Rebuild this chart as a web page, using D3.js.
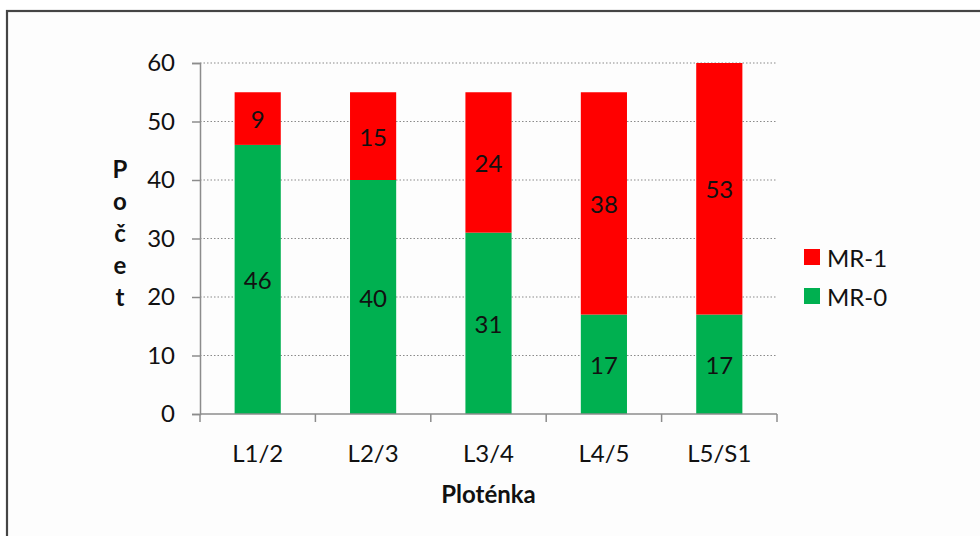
<!DOCTYPE html>
<html>
<head>
<meta charset="utf-8">
<script src="https://cdn.jsdelivr.net/npm/d3@7"></script>
<style>
  html, body { margin: 0; padding: 0; background: #ffffff; }
  svg { display: block; }
  text { font-family: Lato, "Open Sans", sans-serif; fill: #111; }
</style>
</head>
<body>
<svg id="chart" width="980" height="536"></svg>
<script>
// Segments per intervertebral level
const categories = ["L1/2", "L2/3", "L3/4", "L4/5", "L5/S1"];
const mr0 = [46, 40, 31, 17, 17];
const mr1 = [9, 15, 24, 38, 53];
const seriesNames = ["MR-0", "MR-1"];
const seriesColors = ["#00B050", "#FF0000"];
const yTicks = [0, 10, 20, 30, 40, 50, 60];
const yTitle = "Počet";
const xTitle = "Ploténka";

const FS = 24;
const svg = d3.select("#chart");

// outer frame
svg.append("rect")
  .attr("x", 7).attr("y", 11)
  .attr("width", 990).attr("height", 540)
  .attr("fill", "#fdfdfd")
  .attr("stroke", "#454545")
  .attr("stroke-width", 2.2);

const plot = { left: 200, right: 777, top: 63, bottom: 414 };

const x = d3.scaleBand()
  .domain(categories)
  .range([plot.left, plot.right])
  .paddingInner(0.6)
  .paddingOuter(0.3);

const y = d3.scaleLinear()
  .domain([0, 60])
  .range([plot.bottom, plot.top]);

// dotted gridlines
svg.append("g")
  .selectAll("line")
  .data(yTicks.filter(d => d > 0))
  .join("line")
  .attr("x1", plot.left).attr("x2", plot.right)
  .attr("y1", d => y(d)).attr("y2", d => y(d))
  .attr("stroke", "#8a8a8a")
  .attr("stroke-width", 1.2)
  .attr("stroke-dasharray", "1.5,2");

// stacked data
const rows = categories.map((c, i) => ({ cat: c, "MR-0": mr0[i], "MR-1": mr1[i] }));
const stack = d3.stack().keys(seriesNames)(rows);

svg.append("defs").append("clipPath").attr("id", "plotClip")
  .append("rect")
  .attr("x", plot.left).attr("y", plot.top)
  .attr("width", plot.right - plot.left)
  .attr("height", plot.bottom - plot.top);

const barsG = svg.append("g").attr("clip-path", "url(#plotClip)");
stack.forEach((layer, si) => {
  barsG.append("g")
    .attr("fill", seriesColors[si])
    .selectAll("rect")
    .data(layer)
    .join("rect")
    .attr("x", d => x(d.data.cat))
    .attr("width", x.bandwidth())
    .attr("y", d => y(d[1]))
    .attr("height", d => y(d[0]) - y(d[1]));
});

// value labels centred in the visible part of each segment
const [ymin, ymax] = y.domain();
stack.forEach((layer, si) => {
  svg.append("g")
    .selectAll("text")
    .data(layer)
    .join("text")
    .attr("x", d => x(d.data.cat) + x.bandwidth() / 2)
    .attr("y", d => {
      const lo = Math.max(d[0], ymin), hi = Math.min(d[1], ymax);
      return y((lo + hi) / 2);
    })
    .attr("text-anchor", "middle")
    .attr("dominant-baseline", "central")
    .attr("font-size", FS)
    .text(d => d[1] - d[0]);
});

// y axis
const yAxis = svg.append("g")
  .attr("transform", `translate(${plot.left},0)`)
  .call(d3.axisLeft(y).tickValues(yTicks).tickSize(8).tickPadding(17));
yAxis.select(".domain").attr("stroke", "#8c8c8c").attr("stroke-width", 1.5);
yAxis.selectAll(".tick line").attr("stroke", "#8c8c8c").attr("stroke-width", 1.5);
yAxis.selectAll(".tick text")
  .attr("font-size", FS)
  .attr("font-family", "Lato, 'Open Sans', sans-serif")
  .attr("fill", "#111");

// x axis with ticks between categories
const xAxisG = svg.append("g");
xAxisG.append("line")
  .attr("x1", plot.left).attr("x2", plot.right)
  .attr("y1", plot.bottom).attr("y2", plot.bottom)
  .attr("stroke", "#8c8c8c").attr("stroke-width", 1.5);
const step = (plot.right - plot.left) / categories.length;
xAxisG.selectAll("line.tk")
  .data(d3.range(categories.length + 1))
  .join("line")
  .attr("class", "tk")
  .attr("x1", i => plot.left + i * step).attr("x2", i => plot.left + i * step)
  .attr("y1", plot.bottom).attr("y2", plot.bottom + 8)
  .attr("stroke", "#8c8c8c").attr("stroke-width", 1.5);
xAxisG.selectAll("text")
  .data(categories)
  .join("text")
  .attr("x", d => x(d) + x.bandwidth() / 2)
  .attr("y", 452)
  .attr("text-anchor", "middle")
  .attr("dominant-baseline", "central")
  .attr("font-size", FS)
  .text(d => d);

// axis titles
svg.append("text")
  .attr("x", (plot.left + plot.right) / 2)
  .attr("y", 493)
  .attr("text-anchor", "middle")
  .attr("dominant-baseline", "central")
  .attr("font-size", FS)
  .attr("font-weight", "bold")
  .text(xTitle);

svg.append("g")
  .selectAll("text")
  .data(Array.from(yTitle))
  .join("text")
  .attr("x", 120)
  .attr("y", (d, i) => 168 + i * 32)
  .attr("text-anchor", "middle")
  .attr("dominant-baseline", "central")
  .attr("font-size", FS)
  .attr("font-weight", "bold")
  .text(d => d);

// legend (MR-1 above MR-0)
const legendItems = [1, 0];
const legend = svg.append("g")
  .selectAll("g")
  .data(legendItems)
  .join("g")
  .attr("transform", (d, i) => `translate(804,${249 + i * 39})`);
legend.append("rect")
  .attr("width", 16).attr("height", 16)
  .attr("fill", d => seriesColors[d]);
legend.append("text")
  .attr("x", 23).attr("y", 8)
  .attr("dominant-baseline", "central")
  .attr("font-size", FS)
  .text(d => seriesNames[d]);
</script>
</body>
</html>
